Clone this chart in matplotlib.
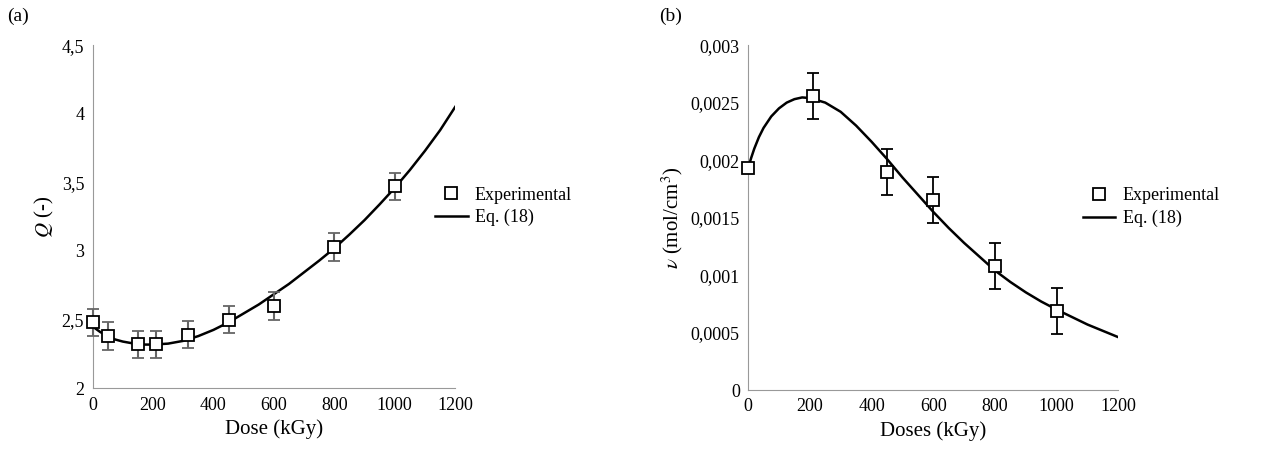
import matplotlib
matplotlib.use("Agg")
import matplotlib.pyplot as plt
from matplotlib.ticker import FuncFormatter
from matplotlib.lines import Line2D

plt.rcParams["font.family"] = ["Liberation Serif", "DejaVu Serif"]
plt.rcParams["mathtext.fontset"] = "stix"
plt.rcParams["font.size"] = 13

# (a) swelling ratio
dose_a = [0, 50, 150, 210, 315, 450, 600, 800, 1000]
q_exp = [2.48, 2.38, 2.32, 2.32, 2.39, 2.50, 2.60, 3.03, 3.47]
q_err = [0.1] * 9
fit_x_a = [0, 25, 50, 75, 100, 125, 150, 175, 200, 250, 300, 350, 400, 450, 500, 550, 600,
           650, 700, 750, 800, 850, 900, 950, 1000, 1050, 1100, 1150, 1200]
fit_q = [2.45, 2.41, 2.38, 2.355, 2.34, 2.33, 2.322, 2.318, 2.318, 2.325, 2.345, 2.38, 2.425,
         2.48, 2.545, 2.61, 2.685, 2.76, 2.845, 2.93, 3.02, 3.12, 3.225, 3.34, 3.46, 3.59,
         3.73, 3.88, 4.05]

# (b) crosslink density
dose_b = [0, 210, 450, 600, 800, 1000]
nu_exp = [0.00193, 0.00256, 0.00190, 0.00165, 0.00108, 0.00069]
nu_err = [0, 0.0002, 0.0002, 0.0002, 0.0002, 0.0002]
fit_x_b = [0, 10, 20, 35, 50, 75, 100, 125, 150, 175, 200, 250, 300, 350, 400, 450, 500, 550,
           600, 650, 700, 750, 800, 850, 900, 950, 1000, 1100, 1200]
fit_nu = [0.00193, 0.00202, 0.00210, 0.00220, 0.00228, 0.00238, 0.00245, 0.00250, 0.00253,
          0.002545, 0.00254, 0.00250, 0.00242, 0.00230, 0.00216, 0.00201, 0.00185, 0.00170,
          0.00155, 0.00141, 0.00128, 0.00116, 0.00104, 0.00094, 0.00085, 0.00077, 0.00070,
          0.00057, 0.00046]


def comma(v, _):
    s = f"{v:.4f}".rstrip("0").rstrip(".")
    return s.replace(".", ",")


def style(ax):
    for s in ("top", "right"):
        ax.spines[s].set_visible(False)
    for s in ("left", "bottom"):
        ax.spines[s].set_color("#999999")
    ax.tick_params(length=0, pad=6)
    ax.yaxis.set_major_formatter(FuncFormatter(comma))


fig = plt.figure(figsize=(12.68, 4.70), dpi=100)
ax1 = fig.add_axes([0.073, 0.174, 0.286, 0.73])
ax2 = fig.add_axes([0.59, 0.170, 0.292, 0.734])

ax1.plot(fit_x_a, fit_q, color="black", lw=1.8, zorder=2)
ax1.errorbar(dose_a, q_exp, yerr=q_err, fmt="s", mfc="white", mec="black", mew=1.3, ms=8,
             ecolor="#666666", elinewidth=1.5, capsize=4, capthick=1.5, zorder=3, clip_on=False)
ax1.set_xlim(0, 1200)
ax1.set_ylim(2, 4.5)
ax1.set_xticks(range(0, 1201, 200))
ax1.set_yticks([2, 2.5, 3, 3.5, 4, 4.5])
ax1.set_xlabel("Dose (kGy)", fontsize=15)
ax1.set_ylabel("$Q$ (-)", fontsize=15)
style(ax1)

ax2.plot(fit_x_b, fit_nu, color="black", lw=1.8, zorder=2)
ax2.errorbar(dose_b, nu_exp, yerr=nu_err, fmt="s", mfc="white", mec="black", mew=1.3, ms=8,
             ecolor="black", elinewidth=1.3, capsize=4, capthick=1.3, zorder=3, clip_on=False)
ax2.set_xlim(0, 1200)
ax2.set_ylim(0, 0.003)
ax2.set_xticks(range(0, 1201, 200))
ax2.set_yticks([0, 0.0005, 0.001, 0.0015, 0.002, 0.0025, 0.003])
ax2.set_xlabel("Doses (kGy)", fontsize=15)
ax2.set_ylabel(r"$\nu$ (mol/cm$^3$)", fontsize=15)
style(ax2)

handles = [Line2D([], [], ls="none", marker="s", mfc="white", mec="black", mew=1.3, ms=8),
           Line2D([], [], color="black", lw=1.8)]
for ax, ax_x in ((ax1, 0.9), (ax2, 0.86)):
    ax.legend(handles, ["Experimental", "Eq. (18)"], loc="center left",
              bbox_to_anchor=(ax_x, 0.53), frameon=False, fontsize=13,
              handlelength=1.8, handletextpad=0.4, labelspacing=0.3)

fig.text(0.006, 0.955, "(a)", fontsize=14)
fig.text(0.52, 0.955, "(b)", fontsize=14)

fig.savefig("out.png", dpi=100)
